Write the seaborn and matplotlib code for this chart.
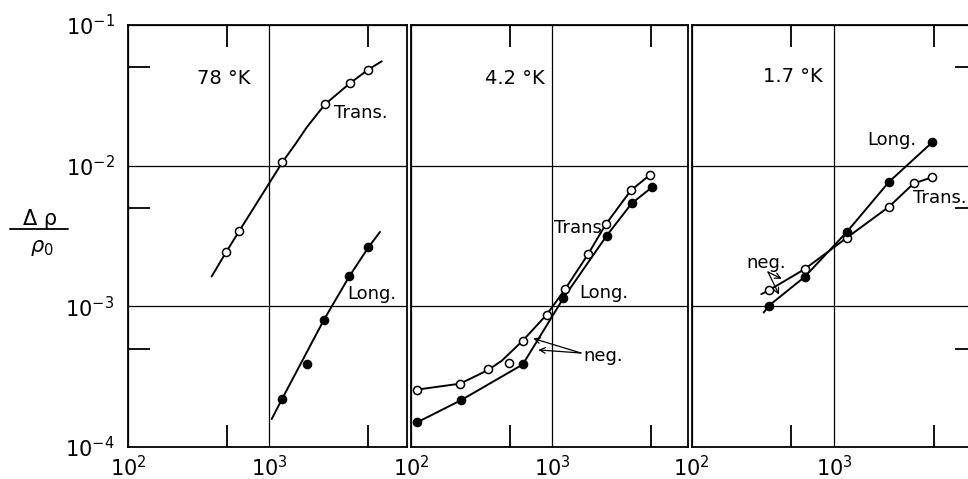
import numpy as np
import pandas as pd
import matplotlib
matplotlib.use("Agg")
import matplotlib.pyplot as plt
from matplotlib.ticker import FixedLocator, FixedFormatter, NullFormatter
from matplotlib.lines import Line2D
import seaborn as sns

# ---------------- data ----------------
panel_titles = ["78 °K", "4.2 °K", "1.7 °K"]
x_tick_values = [100, 1000]
x_tick_labels = [r"$10^{2}$", r"$10^{3}$"]
y_tick_values = [1e-4, 1e-3, 1e-2, 1e-1]
y_tick_labels = [r"$10^{-4}$", r"$10^{-3}$", r"$10^{-2}$", r"$10^{-1}$"]
x_minor = [500, 5000]
y_minor = [5e-4, 5e-3, 5e-2]

# 78 K
h78_trans = [493, 612, 1236, 2483, 3715, 5035]
r78_trans = [2.42e-3, 3.43e-3, 1.055e-2, 2.73e-2, 3.84e-2, 4.82e-2]
h78_long = [1236, 1862, 2443, 3690, 5035]
r78_long = [2.21e-4, 3.86e-4, 8.04e-4, 1.63e-3, 2.62e-3]
c78_trans_h = [390, 493, 612, 1236, 1550, 1841, 2483, 3715, 5035, 6266]
c78_trans_r = [1.63e-3, 2.42e-3, 3.43e-3, 1.055e-2, 1.45e-2, 1.87e-2, 2.73e-2, 3.84e-2, 4.82e-2, 5.52e-2]
c78_long_h = [1040, 1236, 2443, 3690, 5035, 6095]
c78_long_r = [1.58e-4, 2.21e-4, 8.04e-4, 1.63e-3, 2.62e-3, 3.38e-3]

# 4.2 K
h42_trans = [111, 223, 351, 496, 620, 916, 1236, 1808, 2415, 3631, 4955]
r42_trans = [2.56e-4, 2.82e-4, 3.58e-4, 3.95e-4, 5.70e-4, 8.71e-4, 1.32e-3, 2.36e-3, 3.85e-3, 6.68e-3, 8.60e-3]
h42_long = [111, 226, 620, 1202, 2443, 3673, 5140]
r42_long = [1.50e-4, 2.15e-4, 3.86e-4, 1.14e-3, 3.18e-3, 5.39e-3, 7.05e-3]
c42_trans_h = [111, 223, 351, 440, 620, 916, 1236, 1808, 2415, 3631, 4955]
c42_trans_r = [2.56e-4, 2.82e-4, 3.52e-4, 4.10e-4, 5.70e-4, 8.71e-4, 1.32e-3, 2.36e-3, 3.85e-3, 6.68e-3, 8.60e-3]
c42_long_h = h42_long
c42_long_r = r42_long

# 1.7 K
h17_trans = [348, 621, 1230, 2427, 3614, 4889]
r17_trans = [1.30e-3, 1.84e-3, 3.08e-3, 5.11e-3, 7.48e-3, 8.28e-3]
h17_long = [348, 621, 1230, 2427, 4889]
r17_long = [1.01e-3, 1.62e-3, 3.39e-3, 7.68e-3, 1.47e-2]
c17_trans_h = [308] + h17_trans
c17_trans_r = [1.22e-3] + r17_trans
c17_long_h = [320] + h17_long
c17_long_r = [9.04e-4] + r17_long

# ---------------- figure ----------------
sns.set_style("white")
plt.rcParams["font.family"] = ["DejaVu Sans"]
plt.rcParams["mathtext.fontset"] = "dejavusans"
plt.rcParams["text.color"] = "black"
plt.rcParams["xtick.color"] = "black"
plt.rcParams["ytick.color"] = "black"

W, H = 968, 479
fig = plt.figure(figsize=(W / 100, H / 100), dpi=100)


def rect(l, r, top=25, bot=447):
    return [l / W, (H - bot) / H, (r - l) / W, (bot - top) / H]


panels = [
    dict(rect=rect(128.3, 406.7), xmax=10 ** (2 + 278.4 / 141), yside="left",
         trans=(h78_trans, r78_trans, c78_trans_h, c78_trans_r),
         long=(h78_long, r78_long, c78_long_h, c78_long_r)),
    dict(rect=rect(411, 687.7), xmax=10 ** (2 + 276.7 / 141), yside=None,
         trans=(h42_trans, r42_trans, c42_trans_h, c42_trans_r),
         long=(h42_long, r42_long, c42_long_h, c42_long_r)),
    dict(rect=rect(691.7, 976.7), xmax=1e4, yside="right",
         trans=(h17_trans, r17_trans, c17_trans_h, c17_trans_r),
         long=(h17_long, r17_long, c17_long_h, c17_long_r)),
]

axes = []
for i, p in enumerate(panels):
    ax = fig.add_axes(p["rect"])
    ax.set_xscale("log")
    ax.set_yscale("log")

    for kind, face in (("trans", "white"), ("long", "black")):
        h, r, ch, cr = p[kind]
        dfc = pd.DataFrame({"H": ch, "R": cr})
        sns.lineplot(data=dfc, x="H", y="R", ax=ax, color="black", lw=1.4,
                     sort=False, estimator=None, zorder=3)
        dfp = pd.DataFrame({"H": h, "R": r})
        sns.scatterplot(data=dfp, x="H", y="R", ax=ax, color=face,
                        edgecolor="black", linewidth=1.1, s=34, zorder=4)

    ax.set_xlim(100, p["xmax"])
    ax.set_ylim(1e-4, 1e-1)
    ax.set_xlabel("")
    ax.set_ylabel("")

    ax.xaxis.set_major_locator(FixedLocator(x_tick_values))
    ax.xaxis.set_major_formatter(FixedFormatter(x_tick_labels))
    ax.xaxis.set_minor_locator(FixedLocator(x_minor))
    ax.xaxis.set_minor_formatter(NullFormatter())
    ax.yaxis.set_major_locator(FixedLocator(y_tick_values))
    ax.yaxis.set_minor_locator(FixedLocator(y_minor))
    ax.yaxis.set_minor_formatter(NullFormatter())
    if i == 0:
        ax.yaxis.set_major_formatter(FixedFormatter(y_tick_labels))
    else:
        ax.yaxis.set_major_formatter(NullFormatter())

    ax.tick_params(axis="x", which="major", length=0, pad=6, labelsize=15, colors="black")
    ax.tick_params(axis="x", which="minor", direction="in", length=16, width=1.3,
                   top=True, bottom=True, color="black")
    ax.tick_params(axis="y", which="major", length=0, pad=10, labelsize=15, colors="black")
    ax.tick_params(axis="y", which="minor", direction="in", length=16, width=1.3,
                   left=(p["yside"] == "left"), right=(p["yside"] == "right"), color="black")

    ax.grid(True, which="major", color="black", lw=0.9)
    for s in ax.spines.values():
        s.set_visible(True)
        s.set_color("black")
        s.set_linewidth(1.3)
    ax.set_facecolor("white")
    if ax.get_legend() is not None:
        ax.get_legend().remove()
    axes.append(ax)


def ftext(x, y, s, size=13):
    fig.text(x / W, 1 - y / H, s, fontsize=size, va="center", ha="left", color="black")


# panel titles
ftext(197, 78, panel_titles[0], size=14)
ftext(485, 78, panel_titles[1], size=14)
ftext(763, 77, panel_titles[2], size=14)

# curve labels
ftext(334, 113, "Trans.")
ftext(347, 294, "Long.")
ftext(554, 228, "Trans")
ftext(579, 293, "Long.")
ftext(583, 356, "neg.")
ftext(746, 263, "neg.")
ftext(867, 140, "Long.")
ftext(913, 198, "Trans.")

# "neg." arrows
arrow = dict(arrowstyle="->", color="black", lw=0.9, shrinkA=0, shrinkB=0)
axes[1].annotate("", xy=(736, 5.91e-4), xytext=(581, H - 353), textcoords="figure pixels",
                 arrowprops=arrow)
axes[1].annotate("", xy=(800, 4.90e-4), xytext=(581, H - 353), textcoords="figure pixels",
                 arrowprops=arrow)
axes[2].annotate("", xy=(428, 1.57e-3), xytext=(768, H - 272), textcoords="figure pixels",
                 arrowprops=arrow)
axes[2].annotate("", xy=(410, 1.21e-3), xytext=(768, H - 272), textcoords="figure pixels",
                 arrowprops=arrow)

# y-axis label as a fraction
fig.text(40 / W, 1 - 219 / H, "Δ ρ", fontsize=15, ha="center", va="center", color="black")
fig.add_artist(Line2D([10 / W, 68 / W], [1 - 229 / H, 1 - 229 / H], color="black", lw=1.3))
fig.text(42 / W, 1 - 248 / H, r"$\rho_0$", fontsize=15, ha="center", va="center", color="black")

fig.savefig("out.png", dpi=100, facecolor="white")
